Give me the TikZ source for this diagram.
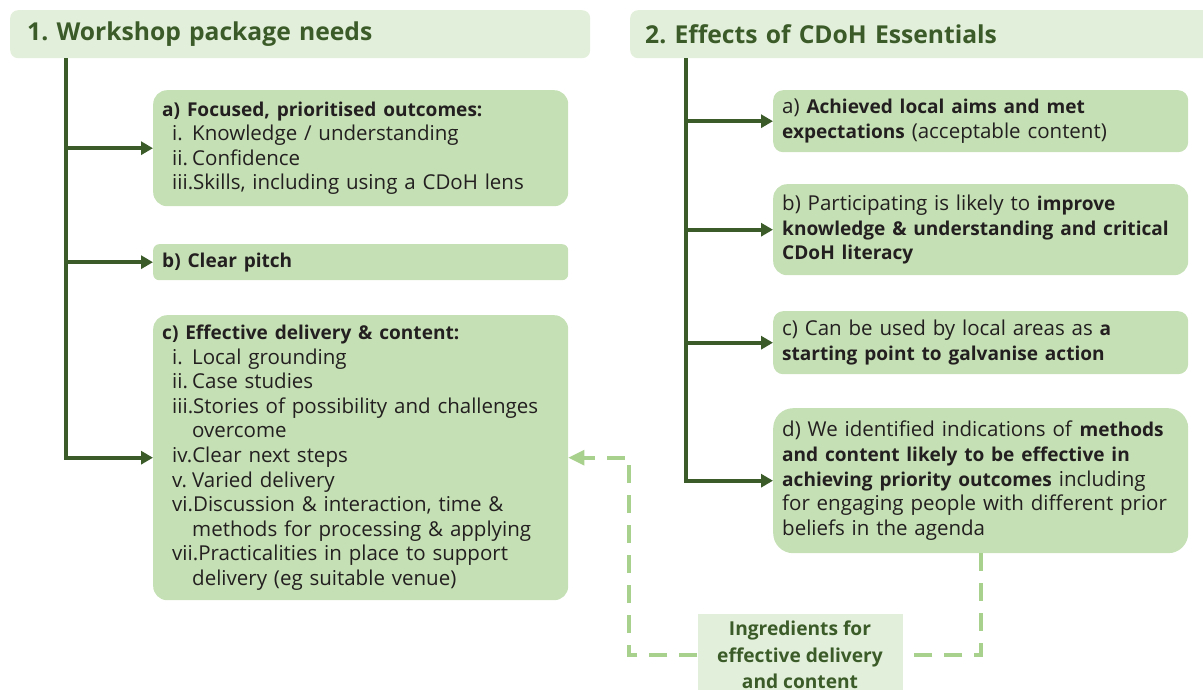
\documentclass[tikz,border=0pt]{standalone}
\usepackage{fontspec}
\setmainfont{Open Sans}[BoldFeatures={Scale=0.93}]
\usetikzlibrary{arrows.meta}
\usetikzlibrary{positioning}
\definecolor{dkgreen}{HTML}{3B5B28}
\definecolor{boxgreen}{HTML}{C5E0B4}
\definecolor{headgreen}{HTML}{E2EFDA}
\definecolor{dashgreen}{HTML}{A9D18E}
\definecolor{ink}{HTML}{231F20}
\frenchspacing
\newcommand\lstitem[2]{\par\hspace*{10pt}\setbox0\hbox{#1}\ifdim\wd0<20pt\hbox to 20pt{#1\hfil}\else\box0\fi#2}

\begin{document}
\begin{tikzpicture}[x=1pt,y=-1pt,
    head/.style={fill=headgreen,rounded corners=8pt,anchor=north west,inner xsep=17pt,inner ysep=0pt,
        text=dkgreen,font=\bfseries\fontsize{26.5}{30}\selectfont,minimum height=48pt,align=left},
    card/.style={fill=boxgreen,rounded corners=14pt,anchor=north west,text width=397pt,inner xsep=9pt,
        inner ysep=0pt,text=ink,align=left,font=\fontsize{20.5}{24.6}\selectfont},
    trunk/.style={draw=dkgreen,line width=4pt},
    branch/.style={trunk,-{Triangle[length=12pt,width=13pt]}},
    feedback/.style={draw=dashgreen,line width=4pt,dash pattern=on 18pt off 12pt}]
    \useasboundingbox (0,0) rectangle (1203,690);
    \node[head,text width=546pt] (h1) at (10,10) {1. Workshop package needs};
    \node[head,text width=568pt,inner xsep=15pt] (h2) at (630,10) {2. Effects of CDoH Essentials};
    \node[card,minimum height=116pt] (a1) at (153,90) {\textbf{a) Focused, prioritised outcomes:}
        \lstitem{i.}{Knowledge / understanding}
        \lstitem{ii.}{Confidence}
        \lstitem{iii.}{Skills, including using a CDoH lens}};
    \node[card,minimum height=36pt,rounded corners=6pt] (b1) at (153,244) {\textbf{b) Clear pitch}};
    \node[card,minimum height=285pt] (c1) at (153,315) {\textbf{c) Effective delivery \& content:}
        \lstitem{i.}{Local grounding}
        \lstitem{ii.}{Case studies}
        \lstitem{iii.}{Stories of possibility and challenges}
        \lstitem{}{overcome}
        \lstitem{iv.}{Clear next steps}
        \lstitem{v.}{Varied delivery}
        \lstitem{vi.}{Discussion \& interaction, time \&}
        \lstitem{}{methods for processing \& applying}
        \lstitem{vii.}{Practicalities in place to support}
        \lstitem{}{delivery (eg suitable venue)}};
    \node[card,minimum height=62pt,rounded corners=10pt] (a2) at (773,90) {a) \textbf{Achieved local aims and met}\newline
        \textbf{expectations} (acceptable content)};
    \node[card,minimum height=91pt] (b2) at (773,184) {b) Participating is likely to \textbf{improve}\newline
        \textbf{knowledge \& understanding and critical}\newline\textbf{CDoH literacy}};
    \node[card,minimum height=63pt,rounded corners=10pt] (c2) at (773,311) {c) Can be used by local areas as \textbf{a}\newline
        \textbf{starting point to galvanise action}};
    \node[card,minimum height=145pt,rounded corners=20pt] (d2) at (773,408) {d) We identified indications of \textbf{methods}\newline
        \textbf{and content likely to be effective in}\newline\textbf{achieving priority outcomes} including\newline
        for engaging people with different prior\newline beliefs in the agenda};
    \node[fill=headgreen,minimum width=205pt,minimum height=82pt,inner sep=0pt,align=center,text=dkgreen,
        font=\bfseries\fontsize{20.6}{26.5}\selectfont] (ing) at (800,655) {Ingredients for\\effective delivery\\and content};

    \coordinate (t1) at ([xshift=56pt]h1.south west);
    \coordinate (t2) at ([xshift=56pt]h2.south west);
    \draw[branch] (t1) |- (c1.west);
    \draw[branch] (t2) |- (d2.west);
    \foreach \n in {a1,b1}
        \draw[branch] (t1 |- \n.west) -- (\n.west);
    \foreach \n in {a2,b2,c2}
        \draw[branch] (t2 |- \n.west) -- (\n.west);

    \draw[feedback] (d2.south) |- (ing.east);
    \draw[feedback] (ing.west) -- ++(-68,0) |- ([xshift=16pt]c1.east);
    \fill[dashgreen] (c1.east) -- ++(16,-8) -- ++(0,16) -- cycle;
\end{tikzpicture}
\end{document}
